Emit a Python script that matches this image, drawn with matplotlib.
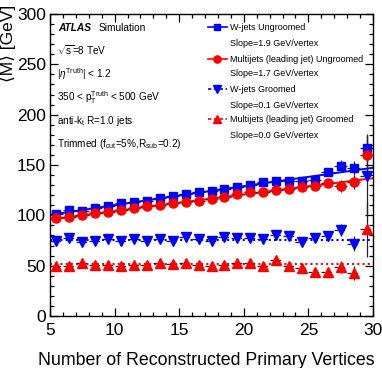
import numpy as np
import matplotlib
matplotlib.use("Agg")
import matplotlib.pyplot as plt
from matplotlib.ticker import MultipleLocator
from matplotlib.lines import Line2D

plt.rcParams['font.family'] = ['Liberation Sans', 'DejaVu Sans']
plt.rcParams['mathtext.fontset'] = 'custom'
plt.rcParams['mathtext.rm'] = 'Liberation Sans'
plt.rcParams['mathtext.it'] = 'Liberation Sans:italic'
plt.rcParams['mathtext.bf'] = 'Liberation Sans:bold'

# ---------------- data ----------------
npv = [5.5, 6.5, 7.5, 8.5, 9.5, 10.5, 11.5, 12.5, 13.5, 14.5, 15.5, 16.5, 17.5,
       18.5, 19.5, 20.5, 21.5, 22.5, 23.5, 24.5, 25.5, 26.5, 27.5, 28.5, 29.5]
w_ungroomed = [101, 105, 104, 107, 109, 112, 113, 114, 117, 119, 121, 123, 124,
               126, 128, 130, 133, 134, 134, 134, 135, 143, 149, 147, 167]
m_ungroomed = [97, 98, 100, 102, 103, 105, 107, 109, 110, 112, 113, 114, 116,
               118, 121, 123, 123, 125, 126, 128, 129, 132, 129, 133, 160]
w_groomed = [75, 77, 74, 75, 76, 75, 76, 75, 76, 75, 78, 76, 75,
             78, 77, 77, 76, 80, 79, 74, 77, 79, 85, 72, 139]
m_groomed = [50, 50, 53, 51, 51, 50, 51, 51, 53, 52, 53, 51, 50,
             51, 53, 53, 50, 56, 50, 48, 44, 44, 49, 43, 86]
err_w_ung = [1, 1, 1, 1, 1, 1, 1, 1, 1, 1, 1, 1.2, 1.2, 1.4, 1.6, 1.8, 2, 2.2, 2.5, 3, 3.5, 4, 6, 7, 14]
err_m_ung = [1, 1, 1, 1, 1, 1, 1, 1, 1, 1, 1, 1.2, 1.2, 1.4, 1.6, 1.8, 2, 2.2, 2.5, 3, 3.5, 4, 6, 7, 20]
err_w_gr = [1, 1, 1, 1, 1, 1, 1, 1, 1, 1, 1, 1.2, 1.2, 1.4, 1.6, 1.8, 2, 2.2, 2.5, 3, 3.5, 4, 6, 7, 40]
err_m_gr = [1, 1, 1, 1, 1, 1, 1, 1, 1, 1, 1, 1.2, 1.2, 1.4, 1.6, 1.8, 2, 2.2, 2.5, 3, 3.5, 4, 6, 7, 27]

legend_labels = ["W-jets Ungroomed", "Slope=1.9 GeV/vertex",
                 "Multijets (leading jet) Ungroomed", "Slope=1.7 GeV/vertex",
                 "W-jets Groomed", "Slope=0.1 GeV/vertex",
                 "Multijets (leading jet) Groomed", "Slope=0.0 GeV/vertex"]

BLUE = '#0000ff'
RED = '#ff0000'

W, H = 382, 368
fig = plt.figure(figsize=(W / 100, H / 100), dpi=100)
ax = fig.add_axes([50 / W, 1 - 316 / H, 323 / W, 302 / H])

x = np.array(npv)
xf = np.linspace(5, 30, 200)

series = [
    (w_ungroomed, err_w_ung, BLUE, 's', 'solid', '-', 6.3),
    (m_ungroomed, err_m_ung, RED, 'o', 'solid', '-', 6.5),
    (w_groomed, err_w_gr, BLUE, 'v', 'dashed', ':', 7.0),
    (m_groomed, err_m_gr, RED, '^', 'dashed', ':', 7.0),
]

for vals, errs, col, mk, els, fls, ms in series:
    y = np.array(vals, float)
    e = np.array(errs, float)
    wts = 1.0 / e
    if fls == '-':
        c = np.polyfit(x, y, 2, w=wts)
        ax.plot(xf, np.polyval(c, xf), color=col, lw=1.4, ls='-', zorder=2)
    else:
        mean = np.sum(y * wts ** 2) / np.sum(wts ** 2)
        ax.plot([5, 30], [mean, mean], color=col, lw=1.5, ls=(0, (1.0, 1.5)), zorder=2)
    # vertical error bars (solid)
    ax.errorbar(x, y, yerr=e, fmt='none', ecolor='#222222',
                elinewidth=0.9, capsize=0, zorder=3)
    # horizontal bin-width bars
    ebx = ax.errorbar(x, y, xerr=0.5, fmt='none', ecolor='#222222',
                      elinewidth=0.9, capsize=0, zorder=3)
    if els == 'dashed':
        for lc in ebx[2]:
            lc.set_linestyle((0, (3, 2.5)))
    ax.plot(x, y, ls='none', marker=mk, ms=ms, color=col, mec=col, zorder=4)

ax.set_xlim(5, 30)
ax.set_ylim(0, 300)
ax.xaxis.set_major_locator(MultipleLocator(5))
ax.xaxis.set_minor_locator(MultipleLocator(1))
ax.yaxis.set_major_locator(MultipleLocator(50))
ax.yaxis.set_minor_locator(MultipleLocator(10))
ax.tick_params(which='both', direction='in', top=True, right=True, labelsize=12.5, width=0.9)
ax.tick_params(which='major', length=6)
ax.tick_params(which='minor', length=3)
ax.tick_params(axis='x', pad=5)
ax.tick_params(axis='y', pad=3)
for s in ax.spines.values():
    s.set_linewidth(1.0)

ax.set_xlabel("Number of Reconstructed Primary Vertices", fontsize=12.8)
ax.xaxis.set_label_coords(0.483, -0.12)
ax.set_ylabel("⟨M⟩ [GeV]", fontsize=12.5, loc='top')
ax.yaxis.set_label_coords(-0.105, 1.03)

def px(xp, yp):
    return xp / W, 1 - yp / H

# left text block
fs = 7.2
fig.text(*px(58, 31), "ATLAS", fontsize=7.3, fontweight='bold', fontstyle='italic', va='baseline')
fig.text(*px(99, 31), "Simulation", fontsize=7.3, va='baseline')
fig.text(*px(57, 55), r"$\sqrt{\mathrm{s}}$=8 TeV", fontsize=fs, va='baseline')
fig.text(*px(57, 78), r"|$\eta^{\mathrm{Truth}}$| < 1.2", fontsize=fs, va='baseline')
fig.text(*px(57, 101), r"350 < $\mathrm{p}_{\mathrm{T}}^{\mathrm{Truth}}$ < 500 GeV", fontsize=fs, va='baseline')
fig.text(*px(57, 124), r"anti-k$_{\mathrm{t}}$ R=1.0 jets", fontsize=fs, va='baseline')
fig.text(*px(57, 147), r"Trimmed (f$_{\mathrm{cut}}$=5%,R$_{\mathrm{sub}}$=0.2)", fontsize=fs, va='baseline')

# legend (manual)
leg_y = [27, 43, 59, 74, 89, 105, 119, 135]
handles = [(BLUE, 's', '-', 5.0), None, (RED, 'o', '-', 5.2), None,
           (BLUE, 'v', (0, (2, 1.5)), 5.4), None, (RED, '^', (0, (2, 1.5)), 5.4), None]
for yy, lab, h in zip(leg_y, legend_labels, handles):
    if h is not None:
        col, mk, ls, ms = h
        x0, y0 = px(208, yy)
        x1, _ = px(227, yy)
        xm, _ = px(217.5, yy)
        fig.add_artist(Line2D([x0, x1], [y0, y0], color=col, ls=ls, lw=1.2,
                              transform=fig.transFigure))
        fig.add_artist(Line2D([xm], [y0], color=col, marker=mk, ms=ms, ls='none',
                              transform=fig.transFigure))
    fig.text(*px(230, yy), lab, fontsize=6.5, va='center')

fig.savefig("out.png", dpi=100)
